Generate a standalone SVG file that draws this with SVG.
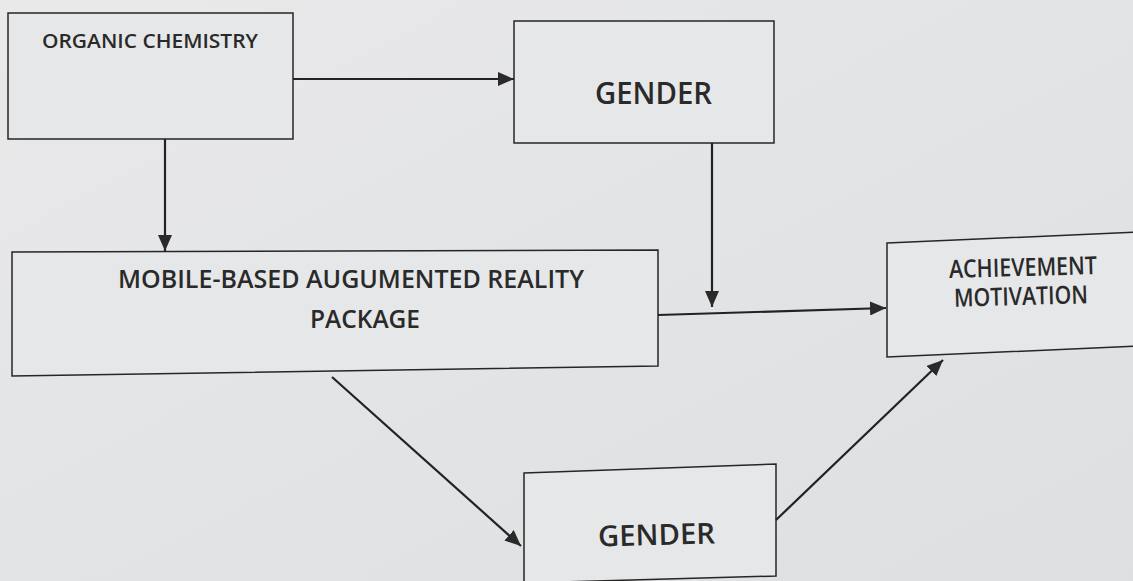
<svg xmlns="http://www.w3.org/2000/svg" width="1133" height="581" viewBox="0 0 1133 581">
  <style>
    .box { fill: #e6e7e9; stroke: #262626; stroke-width: 1.5; }
    .lbl { font-family: "Open Sans", "Noto Sans", sans-serif; font-weight: 600; fill: #2a2a2a; }
    .conn { stroke: #222222; stroke-width: 2.2; fill: none; marker-end: url(#ah); }
  </style>
  <defs>
    <linearGradient id="bg" x1="0" y1="0" x2="1" y2="1">
      <stop offset="0" stop-color="#e9e9ea"/>
      <stop offset="0.5" stop-color="#e3e4e6"/>
      <stop offset="1" stop-color="#dedfe1"/>
    </linearGradient>
    <marker id="ah" viewBox="0 0 16 14" refX="16" refY="7" markerWidth="16" markerHeight="14" markerUnits="userSpaceOnUse" orient="auto">
      <path d="M0,0 L16,7 L0,14 Z" fill="#2a2a2a"/>
    </marker>
  </defs>
  <rect x="0" y="0" width="1133" height="581" fill="url(#bg)"/>

  <g id="organic-chemistry">
    <polygon class="box" points="8,13 293,13 293,139 8,139"/>
    <text class="lbl" x="42" y="48" font-size="20" textLength="216" lengthAdjust="spacingAndGlyphs">ORGANIC CHEMISTRY</text>
  </g>

  <g id="gender-top">
    <polygon class="box" points="514,21 774,21 774,143 514,143"/>
    <text class="lbl" x="595" y="104" font-size="31" textLength="117" lengthAdjust="spacingAndGlyphs">GENDER</text>
  </g>

  <g id="mobile-ar-package">
    <polygon class="box" points="12,252 658,250 658,366 12,376"/>
    <text class="lbl" x="118" y="288" font-size="25" textLength="466" lengthAdjust="spacingAndGlyphs">MOBILE-BASED AUGUMENTED REALITY</text>
    <text class="lbl" x="310" y="328" font-size="25" textLength="110" lengthAdjust="spacingAndGlyphs">PACKAGE</text>
  </g>

  <g id="achievement-motivation">
    <polygon class="box" points="887,243 1140,232 1140,346 887,357"/>
    <text class="lbl" x="949" y="276" font-size="25" textLength="148" lengthAdjust="spacingAndGlyphs" transform="rotate(-1.5 1023 270)">ACHIEVEMENT</text>
    <text class="lbl" x="954" y="305" font-size="25" textLength="134" lengthAdjust="spacingAndGlyphs" transform="rotate(-1.5 1021 298)">MOTIVATION</text>
  </g>

  <g id="gender-bottom">
    <polygon class="box" points="524,473 776,464 776,576 524,583"/>
    <text class="lbl" x="598" y="545" font-size="29" textLength="117" lengthAdjust="spacingAndGlyphs" transform="rotate(-1.5 656 536)">GENDER</text>
  </g>

  <g id="connectors">
    <line class="conn" x1="293" y1="79" x2="514" y2="79"/>
    <line class="conn" x1="165" y1="139" x2="165" y2="251"/>
    <line class="conn" x1="712" y1="143" x2="712" y2="307"/>
    <line class="conn" x1="658" y1="315" x2="886" y2="308"/>
    <line class="conn" x1="332" y1="377" x2="521" y2="546"/>
    <line class="conn" x1="776" y1="520" x2="943" y2="360"/>
  </g>
</svg>
